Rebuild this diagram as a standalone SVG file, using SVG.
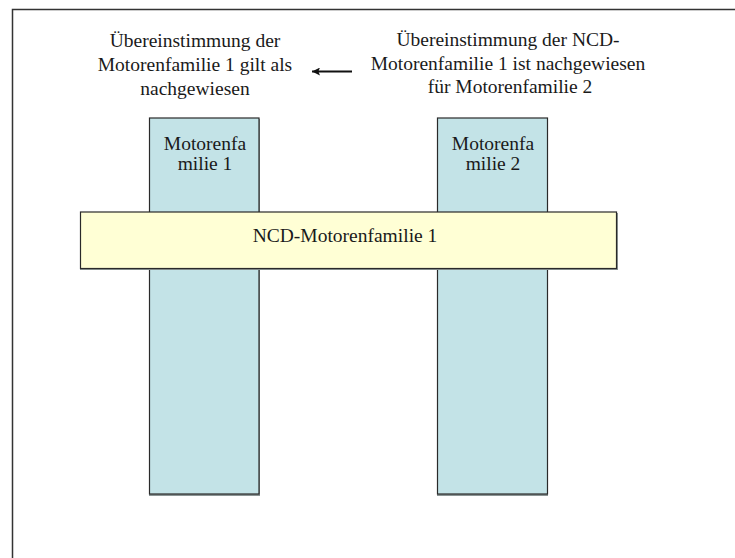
<svg xmlns="http://www.w3.org/2000/svg" width="735" height="558" viewBox="0 0 735 558">
<style>
.t{font-family:"Liberation Serif","DejaVu Serif",serif;font-size:19.5px;fill:#1a1a1a;text-anchor:middle}
.blue{fill:#C3E3E7;stroke:#2a2a2a;stroke-width:1.2}
.yel{fill:#FFFFD5;stroke:#2a2a2a;stroke-width:1.2}
.sh{fill:#8a9494}
.frame{fill:none;stroke:#333;stroke-width:1.5}
</style>
<defs>
<marker id="ah" viewBox="0 0 10 10" refX="10" refY="5" markerWidth="11" markerHeight="8" orient="auto" markerUnits="userSpaceOnUse">
<path d="M10,5 L0,0 L2,5 L0,10 Z" fill="#111"/>
</marker>
</defs>
<rect width="735" height="558" fill="#fff"/>
<path class="frame" d="M12.5,558 L12.5,9.5 L735,9.5"/>
<g id="label-left">
<text class="t" x="195" y="47">Übereinstimmung der</text>
<text class="t" x="195" y="71">Motorenfamilie 1 gilt als</text>
<text class="t" x="195" y="94.5">nachgewiesen</text>
</g>
<g id="label-right">
<text class="t" x="508" y="46">Übereinstimmung der NCD-</text>
<text class="t" x="508" y="69.5">Motorenfamilie 1 ist nachgewiesen</text>
<text class="t" x="510" y="92.5">für Motorenfamilie 2</text>
</g>
<g id="connectors">
<line x1="352" y1="71.5" x2="312" y2="71.5" stroke="#111" stroke-width="2.2" marker-end="url(#ah)"/>
</g>
<g id="motorenfamilie-1">
<rect class="sh" x="149" y="119" width="111" height="377"/>
<rect class="blue" x="149.5" y="118" width="109.5" height="376"/>
<text class="t" x="205" y="150">Motorenfa</text>
<text class="t" x="205" y="170">milie 1</text>
</g>
<g id="motorenfamilie-2">
<rect class="sh" x="437" y="119" width="111" height="377"/>
<rect class="blue" x="437.5" y="118" width="110" height="376"/>
<text class="t" x="493" y="150">Motorenfa</text>
<text class="t" x="493" y="170">milie 2</text>
</g>
<g id="ncd-motorenfamilie-1">
<rect class="sh" x="80" y="213" width="538" height="57"/>
<rect class="yel" x="80.5" y="212" width="536" height="56.5"/>
<text class="t" x="345" y="242">NCD-Motorenfamilie 1</text>
</g>
</svg>
